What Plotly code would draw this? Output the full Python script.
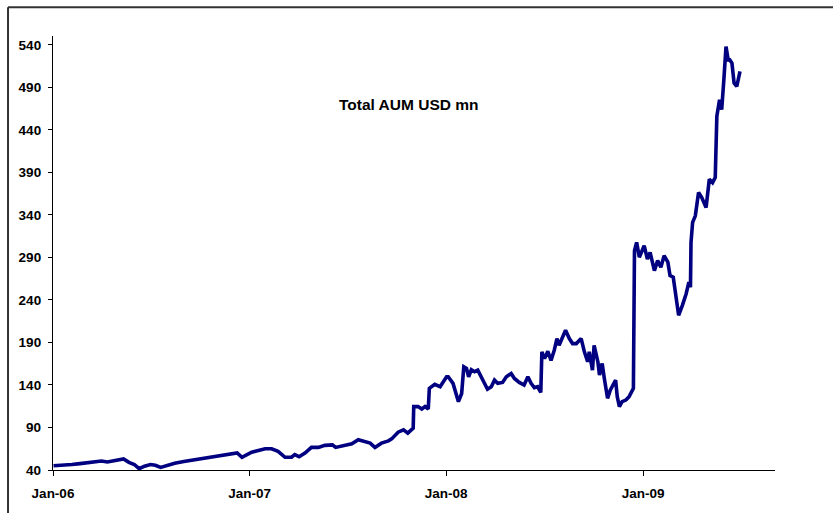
import plotly.graph_objects as go

# Total assets under management, USD mn
dates = [
    "2006-01-02", "2006-01-20", "2006-02-05", "2006-02-20", "2006-03-05", "2006-03-20",
    "2006-04-01", "2006-04-12", "2006-04-25", "2006-05-05", "2006-05-12", "2006-05-22",
    "2006-06-01", "2006-06-10", "2006-06-20", "2006-07-01", "2006-07-10", "2006-07-20",
    "2006-08-01", "2006-08-15", "2006-09-01", "2006-09-15", "2006-10-01", "2006-10-15",
    "2006-11-01", "2006-11-15", "2006-11-28", "2006-12-09", "2006-12-18", "2006-12-28",
    "2007-01-05", "2007-01-30", "2007-02-11", "2007-02-23", "2007-03-08", "2007-03-20",
    "2007-03-26", "2007-04-03", "2007-04-14", "2007-04-26", "2007-05-09", "2007-05-21",
    "2007-06-04", "2007-06-10", "2007-06-27", "2007-07-10", "2007-07-22", "2007-08-03",
    "2007-08-13", "2007-08-22", "2007-09-03", "2007-09-16", "2007-09-22", "2007-10-04",
    "2007-10-14", "2007-10-22", "2007-11-01", "2007-11-02", "2007-11-10", "2007-11-17",
    "2007-11-23", "2007-11-29", "2007-12-01", "2007-12-11", "2007-12-21", "2008-01-02",
    "2008-01-05", "2008-01-14", "2008-01-21", "2008-01-24", "2008-01-30", "2008-02-03",
    "2008-02-08", "2008-02-12", "2008-02-17", "2008-02-23", "2008-02-29", "2008-03-06",
    "2008-03-12", "2008-03-18", "2008-03-25", "2008-03-31", "2008-04-06", "2008-04-15",
    "2008-04-22", "2008-05-01", "2008-05-07", "2008-05-16", "2008-05-25", "2008-06-01",
    "2008-06-07", "2008-06-13", "2008-06-19", "2008-06-25", "2008-06-27", "2008-07-02",
    "2008-07-08", "2008-07-14", "2008-07-20", "2008-07-25", "2008-07-29", "2008-08-05",
    "2008-08-10", "2008-08-17", "2008-08-23", "2008-08-30", "2008-09-08", "2008-09-14",
    "2008-09-20", "2008-09-23", "2008-09-29", "2008-10-02", "2008-10-09", "2008-10-12",
    "2008-10-17", "2008-10-21", "2008-10-27", "2008-11-01", "2008-11-06", "2008-11-11",
    "2008-11-14", "2008-11-18", "2008-11-23", "2008-11-30", "2008-12-06", "2008-12-14",
    "2008-12-16", "2008-12-20", "2008-12-25", "2009-01-03", "2009-01-09", "2009-01-14",
    "2009-01-22", "2009-01-28", "2009-02-03", "2009-02-09", "2009-02-16", "2009-02-20",
    "2009-02-26", "2009-03-03", "2009-03-08", "2009-03-15", "2009-03-22", "2009-03-27",
    "2009-03-30", "2009-03-31", "2009-04-03", "2009-04-08", "2009-04-14", "2009-04-20",
    "2009-04-28", "2009-05-04", "2009-05-10", "2009-05-15", "2009-05-18", "2009-05-23",
    "2009-05-27", "2009-05-31", "2009-06-04", "2009-06-08", "2009-06-11", "2009-06-15",
    "2009-06-19", "2009-06-24", "2009-06-30",
]

aum = [
    45.0, 45.5, 46.5, 47.5, 48.5, 50.0,
    50.5, 49.5, 51.0, 51.5, 53.0, 49.0,
    46.5, 41.5, 44.5, 46.5, 45.5, 43.0,
    45.5, 48.0, 50.0, 51.5, 53.0, 54.5,
    56.0, 57.0, 58.5, 60.0, 55.0, 59.0,
    61.0, 65.0, 65.0, 62.0, 55.0, 55.0,
    58.0, 55.6, 60.0, 66.6, 66.6, 69.0,
    69.6, 66.6, 68.5, 70.8, 75.5, 72.8,
    71.6, 66.6, 71.6, 74.3, 76.6, 84.5,
    87.2, 83.3, 89.2, 114.6, 114.6, 111.8,
    114.6, 111.8, 136.0, 140.7, 138.0, 149.7,
    149.7, 141.9, 124.3, 120.4, 130.0, 161.4,
    159.4, 149.7, 158.0, 155.6, 157.4, 149.7,
    143.9, 135.0, 138.0, 145.7, 141.9, 143.0,
    149.7, 153.6, 147.7, 143.0, 139.9, 149.7,
    141.9, 136.8, 138.0, 131.3, 179.0, 171.0,
    179.7, 169.0, 180.9, 194.6, 186.7, 198.4,
    204.3, 194.6, 188.7, 188.7, 194.6, 179.0,
    167.3, 179.0, 157.4, 186.7, 167.3, 151.6,
    165.3, 147.7, 124.3, 134.0, 139.9, 145.7,
    126.3, 114.6, 120.4, 122.3, 126.3, 136.0,
    298.0, 307.8, 290.2, 303.8, 288.2, 296.0,
    274.5, 286.3, 278.5, 292.1, 284.4, 268.7,
    266.8, 245.3, 221.9, 233.6, 247.3, 261.0,
    255.1, 307.8, 331.2, 339.0, 366.3, 360.5,
    348.8, 381.9, 378.0, 383.9, 456.1, 475.6,
    463.9, 499.0, 538.0, 522.4, 522.4, 518.6,
    495.2, 491.2, 508.8,
]

y_ticks = [40, 90, 140, 190, 240, 290, 340, 390, 440, 490, 540]
x_ticks = ["2006-01-01", "2007-01-01", "2008-01-01", "2009-01-01"]
x_tick_labels = ["Jan-06", "Jan-07", "Jan-08", "Jan-09"]
chart_title = "Total AUM USD mn"

FONT = "Liberation Sans, Arial, sans-serif"

fig = go.Figure(
    go.Scatter(
        x=dates,
        y=aum,
        mode="lines",
        line=dict(color="#000080", width=3.6),
        hoverinfo="skip",
    )
)

fig.update_layout(
    width=833,
    height=513,
    margin=dict(l=53, r=58, t=36, b=41),
    paper_bgcolor="white",
    plot_bgcolor="white",
    showlegend=False,
    font=dict(family=FONT, size=13.5, color="black"),
    annotations=[
        dict(
            text="<b>" + chart_title + "</b>",
            xref="paper", yref="paper",
            x=0.493, y=0.843,
            xanchor="center", yanchor="middle",
            showarrow=False,
            font=dict(family=FONT, size=15.5, color="black"),
        )
    ],
    shapes=[
        # chart-area frame (left and top edges)
        dict(type="line", xref="paper", yref="paper",
             x0=-0.0623, x1=-0.0623, y0=1.0665, y1=-0.2,
             line=dict(color="#333333", width=2)),
        dict(type="line", xref="paper", yref="paper",
             x0=-0.0623, x1=1.2, y0=1.0665, y1=1.0665,
             line=dict(color="#333333", width=2)),
    ],
)

fig.update_xaxes(
    type="date",
    range=["2006-01-01", "2009-09-03"],
    tickmode="array",
    tickvals=x_ticks,
    ticktext=["<b>" + t + "</b>" for t in x_tick_labels],
    ticks="outside",
    ticklen=5,
    tickcolor="black",
    ticklabelstandoff=6,
    showline=True,
    linecolor="black",
    linewidth=1.3,
    showgrid=False,
    zeroline=False,
)

fig.update_yaxes(
    range=[40, 550.5],
    tickmode="array",
    tickvals=y_ticks,
    ticktext=["<b>%d</b>" % v for v in y_ticks],
    ticks="outside",
    ticklen=4,
    tickcolor="black",
    ticklabelstandoff=4,
    showline=True,
    linecolor="black",
    linewidth=1.3,
    showgrid=False,
    zeroline=False,
)

fig.write_html("out.html")
